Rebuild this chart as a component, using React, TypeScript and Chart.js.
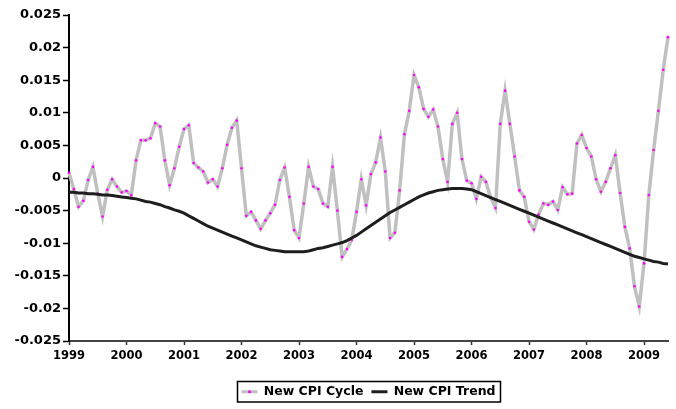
import React, { useEffect, useRef } from 'react';
import { Chart, registerables } from 'chart.js';

Chart.register(...registerables);

// Year tick labels (one every 12 monthly categories)
const years = ['1999', '2000', '2001', '2002', '2003', '2004', '2005', '2006', '2007', '2008', '2009'];
const monthCodes = ['01', '02', '03', '04', '05', '06', '07', '08', '09', '10', '11', '12'];

// New CPI Cycle, monthly 1999-01 .. 2009-06
const cycleValues = [
  0.0008, -0.0017, -0.0044, -0.0035, -0.0003, 0.0017, -0.0024, -0.0059, -0.0018, -0.0002, -0.0013, -0.0022,
  -0.0020, -0.0026, 0.0027, 0.0058, 0.0058, 0.0061, 0.0084, 0.0079, 0.0027, -0.0011, 0.0015, 0.0048,
  0.0075, 0.0081, 0.0023, 0.0016, 0.0010, -0.0007, -0.0002, -0.0013, 0.0015, 0.0051, 0.0077, 0.0088,
  0.0015, -0.0058, -0.0052, -0.0065, -0.0078, -0.0065, -0.0054, -0.0041, -0.0003, 0.0016, -0.0029, -0.0080,
  -0.0092, -0.0039, 0.0017, -0.0013, -0.0017, -0.0039, -0.0044, 0.0017, -0.0050, -0.0121, -0.0109, -0.0095,
  -0.0052, -0.0002, -0.0042, 0.0006, 0.0024, 0.0062, 0.0010, -0.0092, -0.0084, -0.0019, 0.0067, 0.0103,
  0.0158, 0.0139, 0.0106, 0.0094, 0.0105, 0.0079, 0.0029, -0.0006, 0.0083, 0.0100, 0.0029, -0.0004,
  -0.0008, -0.0032, 0.0002, -0.0006, -0.0030, -0.0046, 0.0083, 0.0134, 0.0083, 0.0033, -0.0019, -0.0029,
  -0.0067, -0.0079, -0.0056, -0.0039, -0.0041, -0.0036, -0.0049, -0.0014, -0.0025, -0.0024, 0.0053, 0.0066,
  0.0046, 0.0033, -0.0002, -0.0021, -0.0006, 0.0015, 0.0035, -0.0023, -0.0075, -0.0108, -0.0166, -0.0197,
  -0.0131, -0.0026, 0.0043, 0.0103, 0.0166, 0.0216,
];

// New CPI Trend, monthly 1999-01 .. 2009-06
const trendValues = [
  -0.0022, -0.0022, -0.0023, -0.0023, -0.0024, -0.0024, -0.0025, -0.0026, -0.0026, -0.0027, -0.0028, -0.0029,
  -0.0030, -0.0031, -0.0032, -0.0034, -0.0036, -0.0037, -0.0039, -0.0041, -0.0044, -0.0046, -0.0049, -0.0051,
  -0.0054, -0.0058, -0.0062, -0.0066, -0.0070, -0.0074, -0.0077, -0.0080, -0.0083, -0.0086, -0.0089, -0.0092,
  -0.0095, -0.0098, -0.0101, -0.0104, -0.0106, -0.0108, -0.0110, -0.0111, -0.0112, -0.0113, -0.0113, -0.0113,
  -0.0113, -0.0113, -0.0112, -0.0110, -0.0108, -0.0107, -0.0105, -0.0103, -0.0101, -0.0099, -0.0096, -0.0092,
  -0.0088, -0.0083, -0.0078, -0.0073, -0.0068, -0.0063, -0.0058, -0.0053, -0.0049, -0.0045, -0.0041, -0.0037,
  -0.0033, -0.0029, -0.0026, -0.0023, -0.0021, -0.0019, -0.0018, -0.0017, -0.0016, -0.0016, -0.0016, -0.0017,
  -0.0018, -0.0021, -0.0024, -0.0027, -0.0030, -0.0033, -0.0036, -0.0039, -0.0042, -0.0045, -0.0048, -0.0051,
  -0.0054, -0.0057, -0.0060, -0.0063, -0.0066, -0.0069, -0.0072, -0.0075, -0.0078, -0.0081, -0.0084, -0.0087,
  -0.0090, -0.0093, -0.0096, -0.0099, -0.0102, -0.0105, -0.0108, -0.0111, -0.0114, -0.0117, -0.0120, -0.0122,
  -0.0124, -0.0126, -0.0128, -0.0129, -0.0131, -0.0132,
];

const seriesNames = ['New CPI Cycle', 'New CPI Trend'];
const yMin = -0.025;
const yMax = 0.025;
const yStep = 0.005;

const labels = cycleValues.map((_, i) => `${years[Math.floor(i / 12)]}-${monthCodes[i % 12]}`);

const FONT = "'DejaVu Sans', 'Liberation Sans', sans-serif";
const LEGEND_BOX_W = 16;

const legendFrame = {
  id: 'legendFrame',
  afterDraw(chart: any) {
    const lg = chart.legend;
    if (!lg || !lg.legendHitBoxes || !lg.legendHitBoxes.length) return;
    const hb = lg.legendHitBoxes;
    const ctx = chart.ctx;
    const left = Math.min(...hb.map((b: any) => b.left)) - 4;
    const right = Math.max(...hb.map((b: any) => b.left + b.width)) + 5;
    const top = hb[0].top - 4;
    const bottom = hb[0].top + hb[0].height + 4;
    ctx.save();
    ctx.strokeStyle = '#000';
    ctx.lineWidth = 1.5;
    ctx.strokeRect(left, top, right - left, bottom - top);
    const b0 = hb[0];
    ctx.fillStyle = '#ff00ff';
    ctx.beginPath();
    ctx.arc(b0.left + LEGEND_BOX_W / 2, b0.top + b0.height / 2, 1.5, 0, Math.PI * 2);
    ctx.fill();
    ctx.restore();
  },
};

export default function App() {
  const ref = useRef<HTMLCanvasElement | null>(null);

  useEffect(() => {
    if (!ref.current) return;
    const chart = new Chart(ref.current, {
      type: 'line',
      data: {
        labels,
        datasets: [
          {
            label: seriesNames[0],
            data: cycleValues,
            borderColor: '#c0c0c0',
            borderWidth: 3.5,
            pointRadius: 1.3,
            pointBackgroundColor: '#ff00ff',
            pointBorderColor: '#ff00ff',
            pointBorderWidth: 0,
            tension: 0,
            order: 1,
          },
          {
            label: seriesNames[1],
            data: trendValues,
            borderColor: '#1e1e1e',
            borderWidth: 3,
            pointRadius: 0,
            tension: 0,
            order: 0,
          },
        ],
      },
      options: {
        responsive: false,
        animation: false,
        events: [],
        layout: { padding: { top: 15, right: 8, bottom: 1, left: 0 } },
        scales: {
          x: {
            type: 'category',
            offset: false,
            afterFit: (s: any) => { s.height = 36.5; },
            grid: {
              display: true,
              drawOnChartArea: false,
              drawTicks: true,
              tickLength: 4,
              tickWidth: 1.5,
              tickColor: (c: any) => (c.index % 12 === 0 ? '#333' : 'rgba(0,0,0,0)'),
            },
            border: { display: true, color: '#444', width: 2 },
            ticks: {
              autoSkip: false,
              maxRotation: 0,
              minRotation: 0,
              padding: 4,
              color: '#000',
              font: { family: FONT, size: 11.5, weight: 'bold' },
              callback: (_v: any, index: number) => (index % 12 === 0 ? years[index / 12] : ''),
            },
          },
          y: {
            min: yMin,
            max: yMax,
            afterFit: (s: any) => { s.width = 69; },
            grid: {
              display: true,
              drawOnChartArea: false,
              drawTicks: true,
              tickLength: 6,
              tickWidth: 1.5,
              tickColor: '#000',
            },
            border: { display: true, color: '#000', width: 2 },
            ticks: {
              stepSize: yStep,
              padding: 2,
              color: '#000',
              font: { family: FONT, size: 13, weight: 'bold' },
              callback: (v: any) => {
                const n = Math.round(Number(v) * 1000) / 1000;
                return n === 0 ? '0' : String(n);
              },
            },
          },
        },
        plugins: {
          tooltip: { enabled: false },
          legend: {
            display: true,
            position: 'bottom',
            fullSize: false,
            align: 'center',
            labels: {
              color: '#000',
              font: { family: FONT, size: 12.5, weight: 'bold' },
              boxWidth: LEGEND_BOX_W,
              boxHeight: 3,
              padding: 8,
              generateLabels: (ch: any) =>
                ch.data.datasets.map((ds: any, i: number) => ({
                  text: ds.label,
                  fillStyle: ds.borderColor,
                  strokeStyle: ds.borderColor,
                  lineWidth: 0,
                  hidden: false,
                  datasetIndex: i,
                  fontColor: '#000',
                })),
            },
          },
        },
      },
      plugins: [legendFrame],
    } as any);
    return () => chart.destroy();
  }, []);

  return (
    <div style={{ position: 'absolute', left: 0, top: 0, width: 676, height: 409, background: '#fff' }}>
      <canvas ref={ref} width={676} height={409} style={{ display: 'block' }} />
    </div>
  );
}
